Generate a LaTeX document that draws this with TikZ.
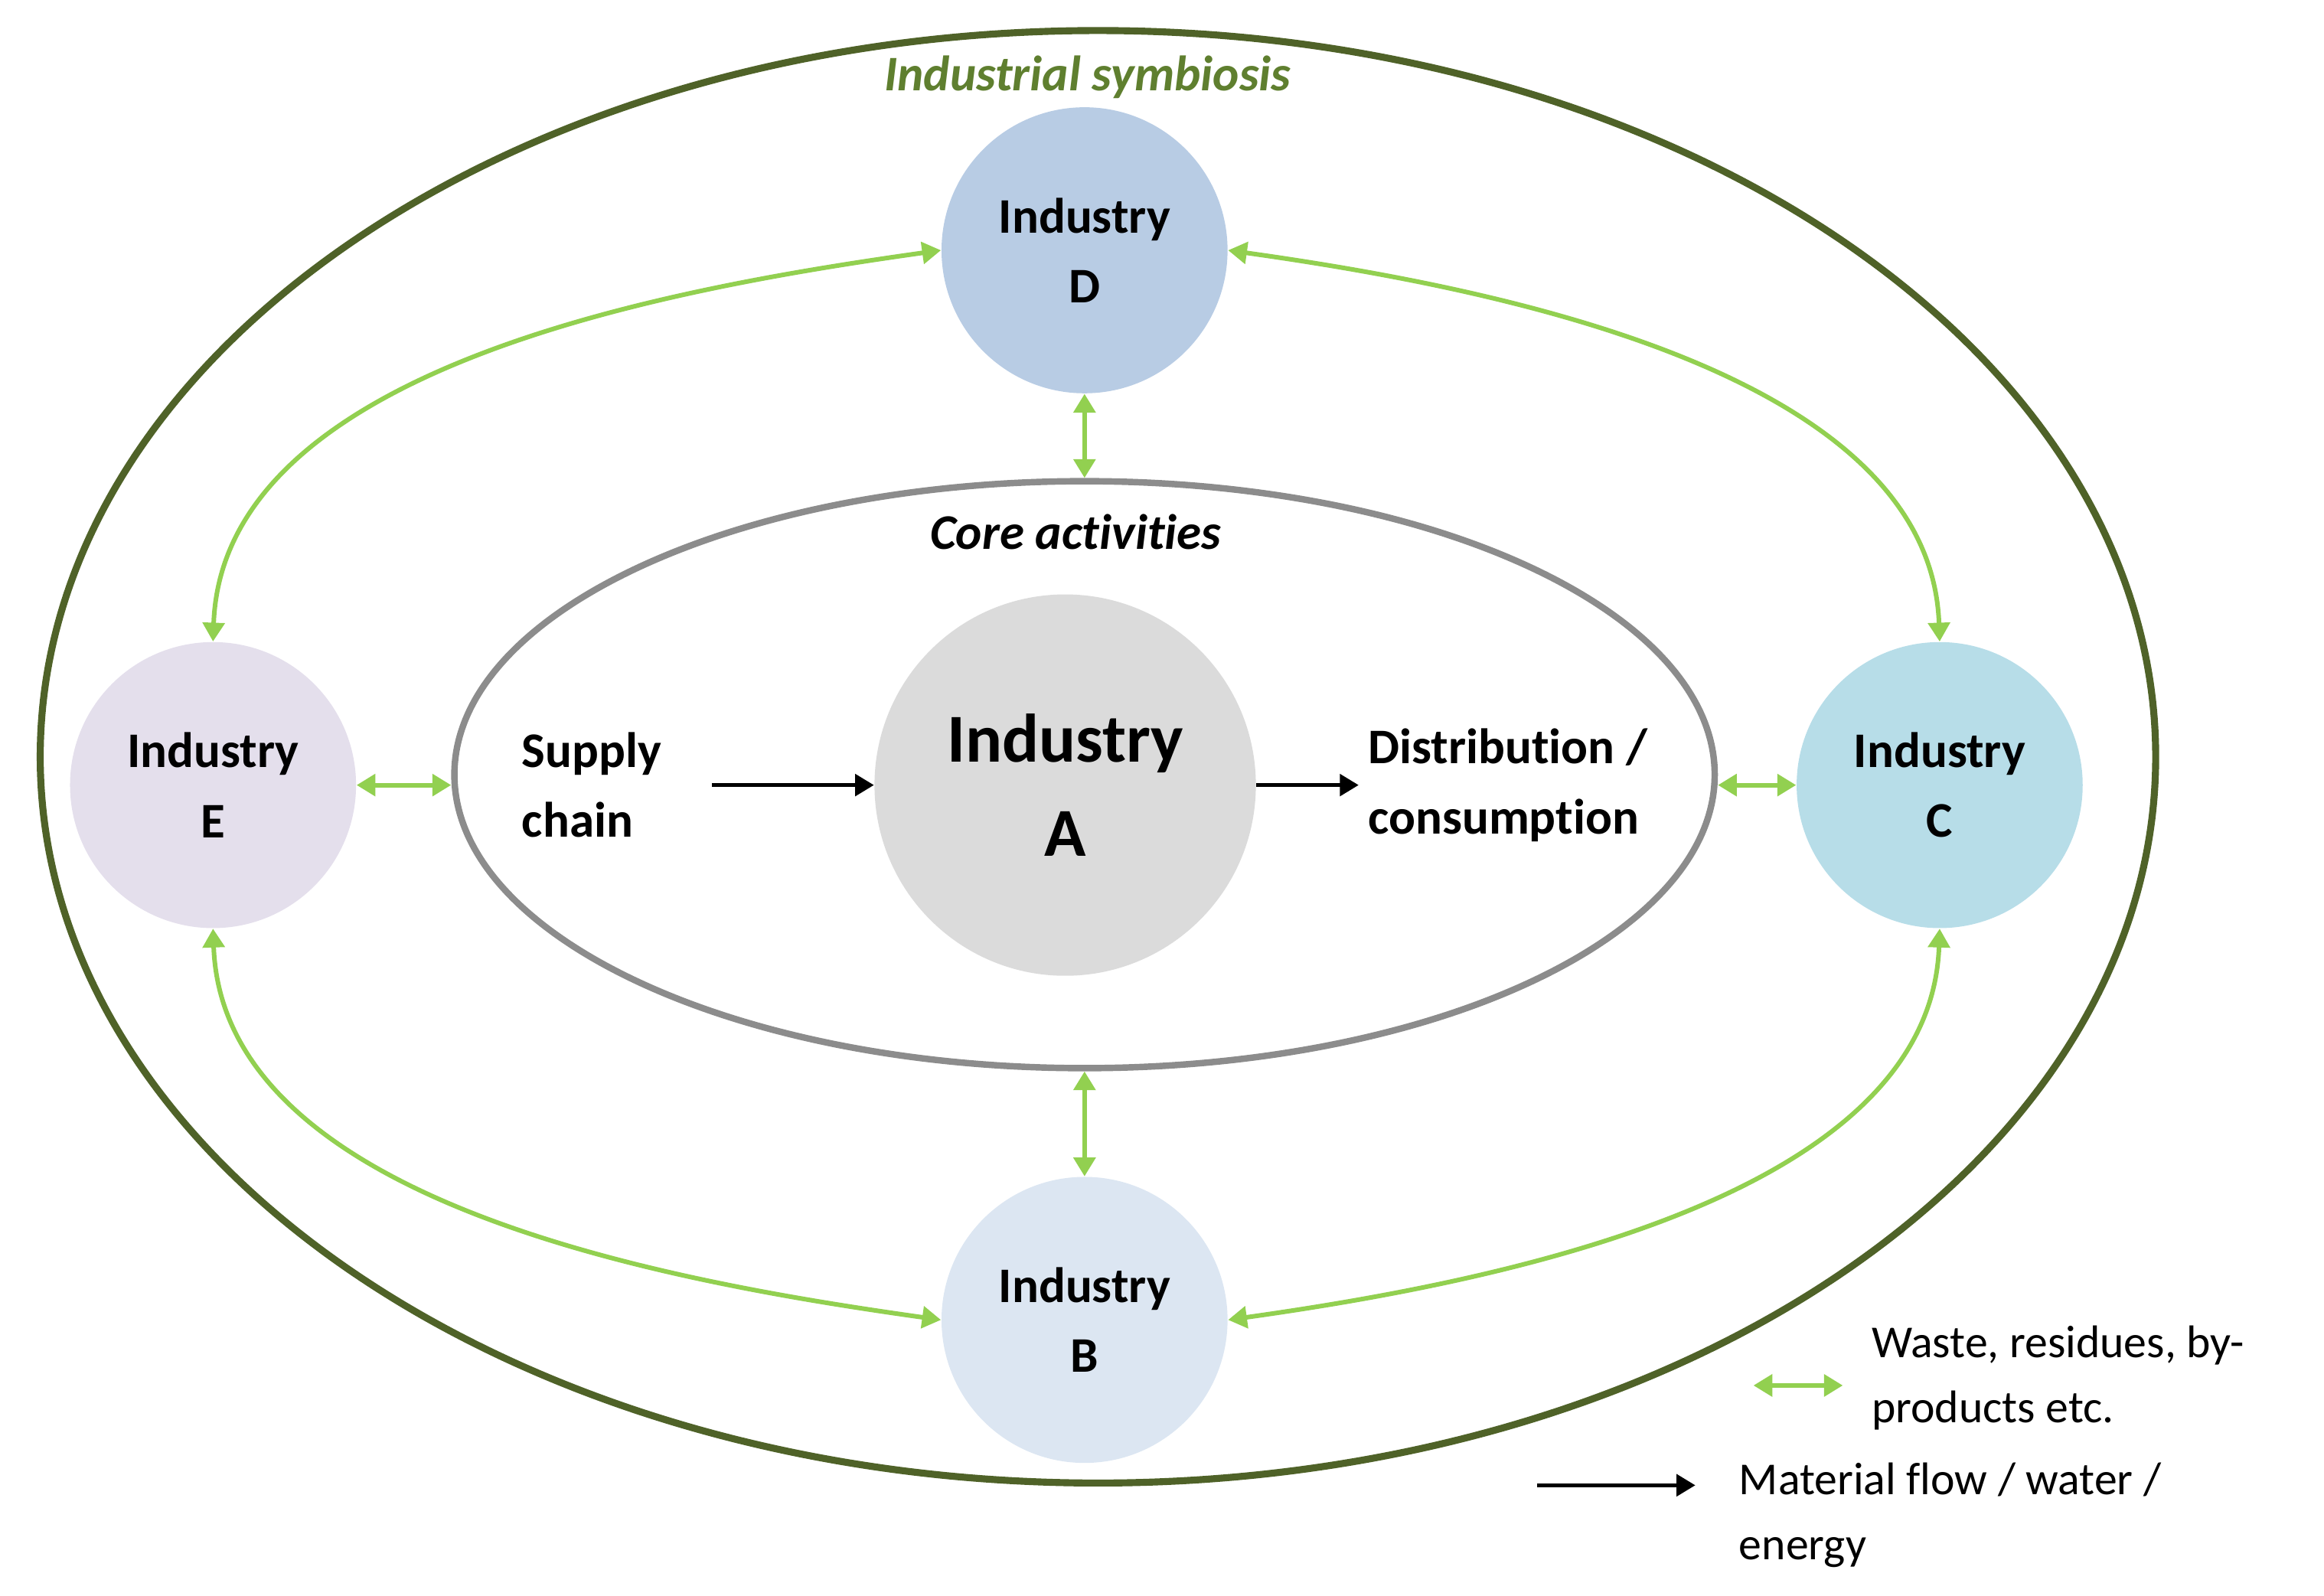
\documentclass[tikz,border=0pt]{standalone}
\usepackage{fontspec}
\setmainfont{Carlito}[Ligatures={NoCommon,NoRequired,NoContextual}]
\usetikzlibrary{shapes.geometric,arrows.meta}
\definecolor{gr}{HTML}{92D050}
\definecolor{dg}{HTML}{4F6228}
\definecolor{dg2}{HTML}{5F7F2F}
\newdimen\myu \myu=0.01946cm
\begin{document}
\begin{tikzpicture}[x=0.01946cm,y=-0.01946cm,
  ind/.style={circle,minimum size=192\myu,inner sep=0pt,align=center,font=\fontsize{18.5}{26}\selectfont\bfseries},
  garr/.style={gr,line width=1.7pt,{Triangle[width=8pt,length=7pt]}-{Triangle[width=8pt,length=7pt]}},
  barr/.style={black,line width=1.5pt,-{Triangle[width=8pt,length=7pt]}},
  txt/.style={align=left,font=\fontsize{18.5}{26}\selectfont\bfseries}]
\useasboundingbox (0,0) rectangle (1560,1071);
\node[draw=dg,line width=2.6pt,ellipse,inner sep=0pt,minimum width=1420\myu,minimum height=975\myu] (outer) at (737,508) {};
\node[draw=gray!90,line width=2.4pt,ellipse,inner sep=0pt,minimum width=846\myu,minimum height=394\myu] (core) at (728,520) {};
\node[font=\fontsize{18.5}{26}\selectfont\bfseries\itshape,text=dg2] (tis) at (730,52) {Industrial symbiosis};
\node[font=\fontsize{18.5}{26}\selectfont\bfseries\itshape] (tca) at (722,357) {Core activities};
\node[ind,fill=gray!28,minimum size=256\myu,font=\fontsize{25.5}{35}\selectfont\bfseries] (A) at (715,527) {Industry\\A};
\node[ind,fill={rgb,255:red,184;green,204;blue,228}] (D) at (728,168) {Industry\\D};
\node[ind,fill={rgb,255:red,220;green,230;blue,242}] (B) at (728,886) {Industry\\B};
\node[ind,fill={rgb,255:red,228;green,223;blue,236}] (E) at (143,527) {Industry\\E};
\node[ind,fill={rgb,255:red,183;green,221;blue,232}] (C) at (1302,527) {Industry\\C};
\node[txt,anchor=west] (sc) at (344,527) {Supply\\chain};
\node[txt,anchor=west] (dc) at (912,527) {Distribution /\\consumption};
\coordinate (s1) at (478,527);
\draw[barr] (s1) -- (A.west);
\draw[barr] (A.east) -- (dc.west);
\draw[garr] (D.south) -- (core.north);
\draw[garr] (B.north) -- (core.south);
\draw[garr] (E.east) -- (E.east -| core.west);
\draw[garr] (C.west) -- (C.west -| core.east);
\draw[garr] (D.west) to[out=188,in=88,looseness=0.85] (E.north);
\draw[garr] (D.east) to[out=-8,in=92,looseness=0.85] (C.north);
\draw[garr] (E.south) to[out=-88,in=172,looseness=0.85] (B.west);
\draw[garr] (C.south) to[out=-92,in=8,looseness=0.85] (B.east);
\coordinate (g1) at (1177,930); \coordinate (g2) at (1237,930);
\draw[garr] (g1) -- (g2);
\node[anchor=west,align=left,font=\fontsize{17}{24}\selectfont] (lw) at (1250,925) {Waste, residues, by-\\products etc.};
\coordinate (b1) at (1032,997); \coordinate (b2) at (1138,997);
\draw[barr] (b1) -- (b2);
\node[anchor=west,align=left,font=\fontsize{17}{24}\selectfont] (lm) at (1161,1017) {Material flow / water /\\energy};
\end{tikzpicture}
\end{document}
